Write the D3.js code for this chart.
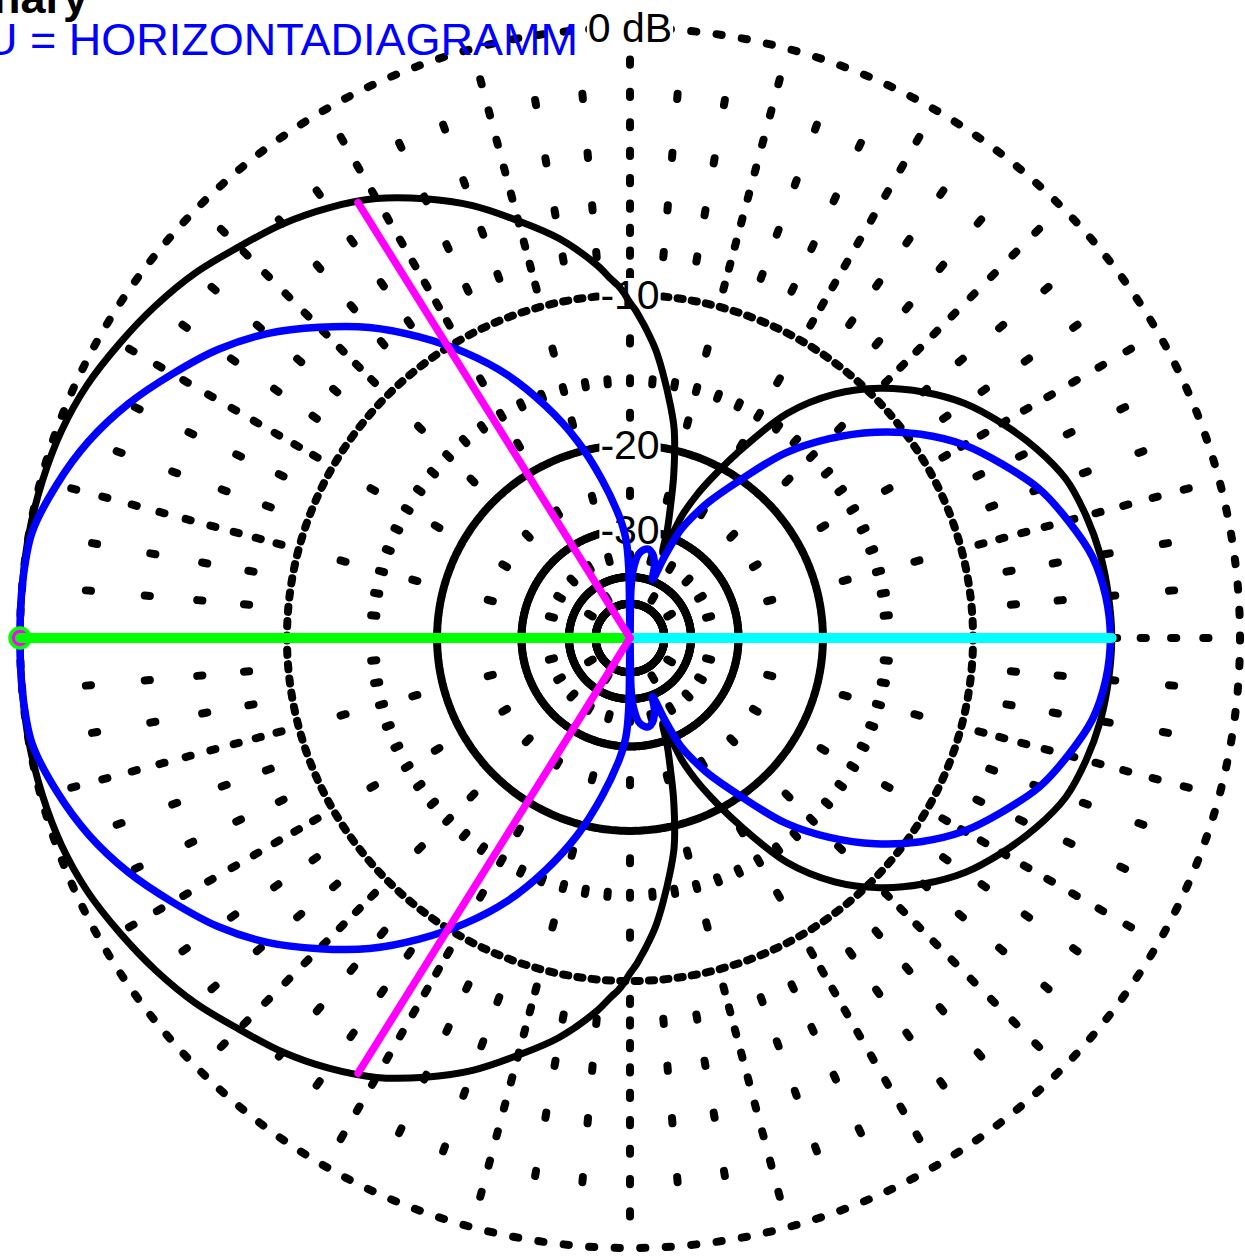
<!DOCTYPE html>
<html>
<head>
<meta charset="utf-8">
<script src="https://cdn.jsdelivr.net/npm/d3@7"></script>
<style>
  body { margin: 0; background: #fff; }
  svg { display: block; }
  text { font-family: "Liberation Sans", Arial, Helvetica, sans-serif; }
</style>
</head>
<body>
<svg id="chart" width="1245" height="1259"></svg>
<script>
// azimuth in degrees, counter-clockwise from the right-hand axis
const azimuth = [0, 5, 10, 15, 20, 25, 30, 35, 40, 45, 50, 55, 60, 63, 65, 67, 69, 71, 73, 75,
  78, 80, 83, 85, 87, 88, 89, 90, 91, 92, 93, 95, 100, 105, 110, 115, 120, 125, 130, 135,
  140, 145, 150, 155, 160, 165, 170, 175, 180, 185, 190, 195, 200, 205, 210, 215, 220, 225,
  230, 235, 240, 245, 250, 255, 260, 265, 267, 268, 269, 270, 271, 272, 273, 275, 277, 280,
  282, 285, 287, 289, 291, 293, 295, 297, 300, 305, 310, 315, 320, 325, 330, 335, 340, 345,
  350, 355];

// black pattern (dB)
const blackDb = [-4.1, -4.15, -4.25, -4.45, -4.75, -5.35, -6.1, -6.95, -8.1, -9.5,
  -11.3, -13.9, -18.3, -21.3, -23.5, -26.5, -33, -29, -25.7, -22.3,
  -18.3, -16.6, -14.3, -12.9, -11.8, -11.3, -10.8, -10.4, -9.9, -9.5,
  -9.2, -8.5, -7.1, -6.0, -4.9, -4.0, -3.2, -2.6, -2.1, -1.7,
  -1.25, -0.9, -0.6, -0.32, -0.14, -0.05, 0, 0, 0,
  0, 0, -0.05, -0.14, -0.32, -0.6, -0.9, -1.25, -1.7, -2.1, -2.6, -3.2, -4.0, -4.9, -6.0, -7.1, -8.5,
  -9.2, -9.5, -9.9, -10.4, -10.8, -11.3, -11.8,
  -12.9, -14.3, -16.6, -18.3, -22.3, -25.7, -29, -33, -26.5, -23.5, -21.3, -18.3,
  -13.9, -11.3, -9.5, -8.1, -6.95, -6.1, -5.35, -4.75, -4.45, -4.25, -4.15];

// blue pattern (dB)
const blueDb = [-4.15, -4.25, -4.55, -5.15, -5.85, -6.86, -7.95, -9.4, -11.2, -13.4,
  -16.1, -19.95, -23.6, -26.3, -28.5, -33.5, -39.5, -36.5, -34.8, -33.8,
  -33.1, -33.2, -33.9, -35, -37.5, -39.5, -45, -100, -38, -32.5,
  -30.5, -28, -23.2, -19, -15.7, -12.9, -10.7, -8.8, -7.1, -5.7,
  -4.4, -3.35, -2.5, -1.68, -1.0, -0.48, -0.08, 0, 0,
  0, -0.08, -0.48, -1.0, -1.68, -2.5, -3.35, -4.4, -5.7, -7.1, -8.8, -10.7, -12.9, -15.7, -19, -23.2, -28,
  -30.5, -32.5, -38, -100, -45, -39.5, -37.5,
  -35, -33.9, -33.2, -33.1, -33.8, -34.8, -36.5, -39.5, -33.5, -28.5, -26.3, -23.6,
  -19.95, -16.1, -13.4, -11.2, -9.4, -7.95, -6.86, -5.85, -5.15, -4.55, -4.25];

// grid levels and labels
const ringLevels = [0, -10, -20, -30, -40, -50];
const ringLabels = ["0 dB", "-10", "-20", "-30"];
const majorSteps = [-1, -2, -3, -4, -5, -6, -7, -8, -9, -12.5, -15, -17.5, -25, -35];
const minorSteps = [-2, -4, -6, -8, -15];

// markers: half-power beam, main lobe and back lobe
const beamAngles = [122, 238];
const beamLevel = -3;
const frontAngle = 180;
const frontLevel = 0;
const backAngle = 0;
const backLevel = -4.1;

const titleLines = ["nary", "U = HORIZONTADIAGRAMM"];

const svg = d3.select("#chart");
const cx = 630;
const cy = 638;
const outerRadius = 610;

// radius grows with the square root of the linear amplitude
const rScale = d3.scaleSqrt().domain([0, 1]).range([0, outerRadius]);
const r = (db) => rScale(Math.pow(10, db / 20));
const rad = (deg) => (deg * Math.PI) / 180;
const px = (deg, db) => r(db) * Math.cos(rad(deg));
const py = (deg, db) => -r(db) * Math.sin(rad(deg));

const chart = svg.append("g").attr("transform", `translate(${cx},${cy})`);

// dotted grid: rings and spokes
const ringDots = ringLevels.flatMap((db) =>
  d3.range(150).map((i) => ({ deg: i * 2.4, db, ring: true }))
);
const spokeDots = d3.range(0, 360, 5).flatMap((deg) =>
  (deg % 15 === 0 ? majorSteps : minorSteps).map((db) => ({ deg, db, ring: false }))
);
const innerDots = d3.range(0, 360, 30).map((deg) => ({ deg, db: -45, ring: false }));

const half = 2.6;
chart
  .append("g")
  .selectAll("line")
  .data(ringDots.concat(spokeDots, innerDots))
  .join("line")
  .each(function (d) {
    const t = rad(d.deg);
    const ux = d.ring ? -Math.sin(t) : Math.cos(t);
    const uy = d.ring ? -Math.cos(t) : -Math.sin(t);
    const x = px(d.deg, d.db);
    const y = py(d.deg, d.db);
    d3.select(this)
      .attr("x1", x - ux * half)
      .attr("y1", y - uy * half)
      .attr("x2", x + ux * half)
      .attr("y2", y + uy * half);
  })
  .attr("stroke", "black")
  .attr("stroke-width", 8)
  .attr("stroke-linecap", "round");

// ring labels on the vertical axis, on a white patch
const labels = chart
  .selectAll(".rlabel")
  .data(ringLabels)
  .join("g")
  .attr("transform", (d, i) => `translate(0,${-r(ringLevels[i])})`);

labels
  .append("text")
  .attr("y", 14)
  .attr("text-anchor", "middle")
  .attr("font-size", 41)
  .text((d) => d);

labels.each(function () {
  const g = d3.select(this);
  const box = g.select("text").node().getBBox();
  g.insert("rect", "text")
    .attr("x", box.x - 1)
    .attr("y", box.y + 6)
    .attr("width", box.width + 2)
    .attr("height", box.height - 12)
    .attr("fill", "white");
});

// patterns
const radial = d3
  .lineRadial()
  .angle((d) => rad(90 - d.deg))
  .radius((d) => r(d.db))
  .curve(d3.curveCatmullRomClosed.alpha(0.5));

const series = [
  { color: "black", width: 7, values: blackDb },
  { color: "#0000ff", width: 7.5, values: blueDb },
];
series.forEach((s) => {
  chart
    .append("path")
    .datum(azimuth.map((deg, i) => ({ deg, db: s.values[i] })))
    .attr("fill", "none")
    .attr("stroke", s.color)
    .attr("stroke-width", s.width)
    .attr("stroke-linejoin", "round")
    .attr("d", radial);
});

// main lobe direction with marker
chart
  .append("circle")
  .attr("cx", px(frontAngle, frontLevel))
  .attr("cy", py(frontAngle, frontLevel))
  .attr("r", 10)
  .attr("fill", "#ff00ff")
  .attr("stroke", "#00ff00")
  .attr("stroke-width", 3.5);

const rays = [
  { deg: frontAngle, db: frontLevel, color: "#00ff00", width: 10 },
  { deg: backAngle, db: backLevel, color: "#00ffff", width: 10 },
].concat(beamAngles.map((deg) => ({ deg, db: beamLevel, color: "#ff00ff", width: 7.5 })));

chart
  .selectAll(".ray")
  .data(rays)
  .join("line")
  .attr("x1", 0)
  .attr("y1", 0)
  .attr("x2", (d) => px(d.deg, d.db))
  .attr("y2", (d) => py(d.deg, d.db))
  .attr("stroke", (d) => d.color)
  .attr("stroke-width", (d) => d.width)
  .attr("stroke-linecap", "round");

// title, clipped at the left edge like the original
svg
  .append("text")
  .attr("x", 88)
  .attr("y", 13)
  .attr("text-anchor", "end")
  .attr("font-size", 45)
  .attr("font-weight", "bold")
  .text(titleLines[0]);

svg
  .append("text")
  .attr("x", 578)
  .attr("y", 55)
  .attr("text-anchor", "end")
  .attr("font-size", 45)
  .attr("fill", "#0000ff")
  .text(titleLines[1]);
</script>
</body>
</html>
